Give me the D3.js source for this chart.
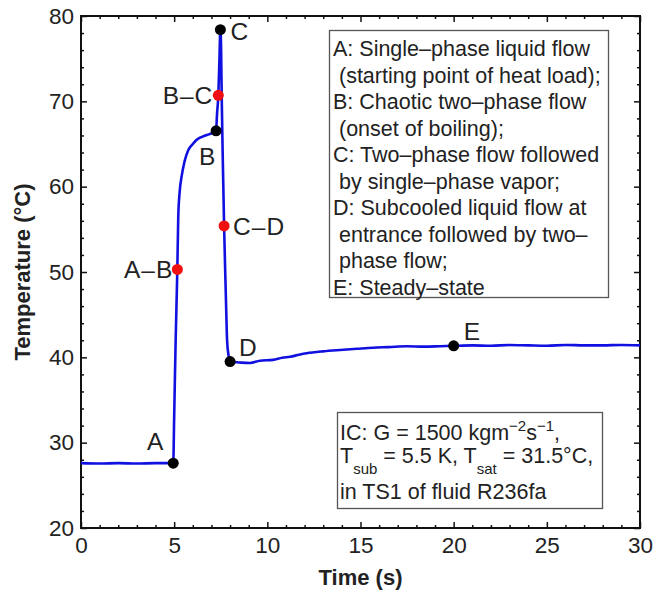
<!DOCTYPE html>
<html>
<head>
<meta charset="utf-8">
<script src="https://cdn.jsdelivr.net/npm/d3@7"></script>
<style>
  body { margin: 0; background: #fff; }
  text { font-family: "Liberation Sans", Arial, Helvetica, sans-serif; fill: #222; }
</style>
</head>
<body>
<svg id="chart"></svg>
<script>
// measured curve (time in s, wall temperature in degC)
var timeS = [0, 1, 2, 3, 4, 4.95, 5.0, 5.08, 5.17, 5.22, 5.30, 5.40, 5.55, 5.76, 6.0, 6.21, 6.75, 7.25,
  7.30, 7.37, 7.43, 7.48, 7.52, 7.55, 7.62, 7.68, 7.74, 7.78, 7.84, 7.92, 8.0,
  8.5, 9.07, 9.6, 10.3, 10.8, 11.22, 11.7, 12.11, 13.0, 13.9, 14.8, 15.67, 16.5, 17.5, 18.4, 19.27, 20,
  21, 22, 23, 24, 25, 26, 27, 28, 29, 30];
var tempC = [27.6, 27.55, 27.6, 27.55, 27.6, 27.6, 33, 42, 50.3, 56.5, 59.5, 61.2, 62.9, 64.3, 65.0, 65.5, 66.05, 66.55,
  68.5, 70.7, 75, 78.4, 76, 70.7, 62, 55.4, 50, 46.7, 42, 40.2, 39.5,
  39.4, 39.33, 39.6, 39.7, 39.95, 40.07, 40.3, 40.47, 40.7, 40.86, 41.0, 41.13, 41.2, 41.3, 41.25, 41.3, 41.35,
  41.4, 41.35, 41.45, 41.4, 41.35, 41.45, 41.4, 41.4, 41.45, 41.4];

// stage points (black) and transition points (red)
var stageLabels = ["A", "B", "C", "D", "E"];
var stageTimes = [4.95, 7.25, 7.48, 8.0, 20];
var stageTemps = [27.6, 66.55, 78.4, 39.5, 41.35];

var transLabels = ["A–B", "B–C", "C–D"];
var transTimes = [5.17, 7.37, 7.68];
var transTemps = [50.3, 70.7, 55.4];

var xTicks = [0, 5, 10, 15, 20, 25, 30];
var yTicks = [20, 30, 40, 50, 60, 70, 80];

var legendLines = [
  "A: Single–phase liquid flow",
  " (starting point of heat load);",
  "B: Chaotic two–phase flow",
  " (onset of boiling);",
  "C: Two–phase flow followed",
  " by single–phase vapor;",
  "D: Subcooled liquid flow at",
  " entrance followed by two–",
  " phase flow;",
  "E: Steady–state"
];

var svgWidth = 655;
var svgHeight = 596;
var margin = { top: 16, right: 15, bottom: 68, left: 81 };
var chartWidth = svgWidth - margin.left - margin.right;
var chartHeight = svgHeight - margin.top - margin.bottom;

var svg = d3.select("#chart")
  .attr("width", svgWidth)
  .attr("height", svgHeight);

var chartGroup = svg.append("g")
  .attr("transform", `translate(${margin.left}, ${margin.top})`);

var xScale = d3.scaleLinear().domain([0, 30]).range([0, chartWidth]);
var yScale = d3.scaleLinear().domain([20, 80]).range([chartHeight, 0]);

// ticks point inward on all four sides (matlab box style)
function tickAxis(axisFn, scale, majors, minorStep) {
  var minors = d3.range(scale.domain()[0], scale.domain()[1] + 0.001, minorStep)
    .filter(v => majors.indexOf(v) < 0);
  var g = chartGroup.append("g");
  g.append("g").call(axisFn(scale).tickValues(majors).tickSize(-6).tickFormat(""));
  g.append("g").call(axisFn(scale).tickValues(minors).tickSize(-3).tickFormat(""));
  g.selectAll(".domain").remove();
  g.selectAll("line").attr("stroke", "#111").attr("stroke-width", 1.5);
  return g;
}
tickAxis(d3.axisBottom, xScale, xTicks, 1).attr("transform", `translate(0,${chartHeight})`);
tickAxis(d3.axisTop, xScale, xTicks, 1);
tickAxis(d3.axisLeft, yScale, yTicks, 2);
tickAxis(d3.axisRight, yScale, yTicks, 2).attr("transform", `translate(${chartWidth},0)`);

// tick labels
var xLabels = chartGroup.append("g")
  .attr("transform", `translate(0,${chartHeight})`)
  .call(d3.axisBottom(xScale).tickValues(xTicks).tickSize(0).tickPadding(9));
xLabels.select(".domain").remove();
xLabels.selectAll("text").attr("font-size", 22.5).attr("fill", "#2a2a2a")
  .style("font-family", "'Liberation Sans', Arial, sans-serif");

var yLabels = chartGroup.append("g")
  .call(d3.axisLeft(yScale).tickValues(yTicks).tickSize(0).tickPadding(7));
yLabels.select(".domain").remove();
yLabels.selectAll("text").attr("font-size", 22.5).attr("fill", "#2a2a2a")
  .style("font-family", "'Liberation Sans', Arial, sans-serif");

// frame
chartGroup.append("rect")
  .attr("width", chartWidth)
  .attr("height", chartHeight)
  .attr("fill", "none")
  .attr("stroke", "#111")
  .attr("stroke-width", 2);

// axis titles
svg.append("text")
  .attr("x", margin.left + chartWidth / 2)
  .attr("y", 585)
  .attr("text-anchor", "middle")
  .attr("font-size", 22)
  .attr("font-weight", "bold")
  .text("Time (s)");

svg.append("text")
  .attr("transform", `translate(30, ${margin.top + chartHeight / 2}) rotate(-90)`)
  .attr("text-anchor", "middle")
  .attr("font-size", 22)
  .attr("font-weight", "bold")
  .text("Temperature (°C)");

// the curve
var curveData = timeS.map((t, i) => ({ t: t, v: tempC[i] }));
var drawLine = d3.line()
  .x(d => xScale(d.t))
  .y(d => yScale(d.v))
  .curve(d3.curveMonotoneX);

chartGroup.append("path")
  .attr("d", drawLine(curveData))
  .attr("fill", "none")
  .attr("stroke", "#1010e0")
  .attr("stroke-width", 2.6);

// markers
var stages = stageLabels.map((l, i) => ({ label: l, t: stageTimes[i], v: stageTemps[i] }));
var trans = transLabels.map((l, i) => ({ label: l, t: transTimes[i], v: transTemps[i] }));

chartGroup.selectAll(".stage")
  .data(stages)
  .enter()
  .append("circle")
  .attr("class", "stage")
  .attr("cx", d => xScale(d.t))
  .attr("cy", d => yScale(d.v))
  .attr("r", 5.5)
  .attr("fill", "#000");

chartGroup.selectAll(".trans")
  .data(trans)
  .enter()
  .append("circle")
  .attr("class", "trans")
  .attr("cx", d => xScale(d.t))
  .attr("cy", d => yScale(d.v))
  .attr("r", 5.5)
  .attr("fill", "#f01010");

// label offsets from each marker (px)
var labelOffset = {
  "A": [-18, -13, "middle"],
  "B": [-9, 34, "middle"],
  "C": [10, 10, "start"],
  "D": [9, -6, "start"],
  "E": [10, -6, "start"],
  "A–B": [-4, 9, "end"],
  "B–C": [-5, 9, "end"],
  "C–D": [9, 9, "start"]
};

chartGroup.selectAll(".ptlabel")
  .data(stages.concat(trans))
  .enter()
  .append("text")
  .attr("class", "ptlabel")
  .attr("x", d => xScale(d.t) + labelOffset[d.label][0])
  .attr("y", d => yScale(d.v) + labelOffset[d.label][1])
  .attr("text-anchor", d => labelOffset[d.label][2])
  .attr("font-size", 24.5)
  .attr("letter-spacing", d => d.label.length > 1 ? 1 : 0)
  .text(d => d.label);

// legend box describing the stages
svg.append("rect")
  .attr("x", 329.5).attr("y", 30.5)
  .attr("width", 279).attr("height", 267)
  .attr("fill", "#fff")
  .attr("stroke", "#555")
  .attr("stroke-width", 1.3);

svg.append("g").selectAll("text")
  .data(legendLines)
  .enter()
  .append("text")
  .attr("x", 333)
  .attr("y", (d, i) => 56 + i * 26.5)
  .attr("font-size", 21.5)
  .attr("xml:space", "preserve")
  .style("white-space", "pre")
  .text(d => d);

// initial conditions box
svg.append("rect")
  .attr("x", 337.5).attr("y", 412.5)
  .attr("width", 265).attr("height", 96)
  .attr("fill", "#fff")
  .attr("stroke", "#555")
  .attr("stroke-width", 1.3);

var ic1 = svg.append("text").attr("x", 340).attr("y", 440).attr("font-size", 21.5);
ic1.append("tspan").text("IC: G = 1500 kgm");
ic1.append("tspan").attr("dy", -9).attr("font-size", 15).text("−2");
ic1.append("tspan").attr("dy", 9).text("s");
ic1.append("tspan").attr("dy", -9).attr("font-size", 15).text("−1");
ic1.append("tspan").attr("dy", 9).text(",");

var ic2 = svg.append("text").attr("x", 340).attr("y", 463).attr("font-size", 21.5);
ic2.append("tspan").text("T");
ic2.append("tspan").attr("dy", 11).attr("font-size", 15).text("sub");
ic2.append("tspan").attr("dy", -11).text(" = 5.5 K, T");
ic2.append("tspan").attr("dy", 11).attr("font-size", 15).text("sat");
ic2.append("tspan").attr("dy", -11).text(" = 31.5°C,");

svg.append("text").attr("x", 340).attr("y", 499).attr("font-size", 21.5)
  .text("in TS1 of fluid R236fa");
</script>
</body>
</html>
